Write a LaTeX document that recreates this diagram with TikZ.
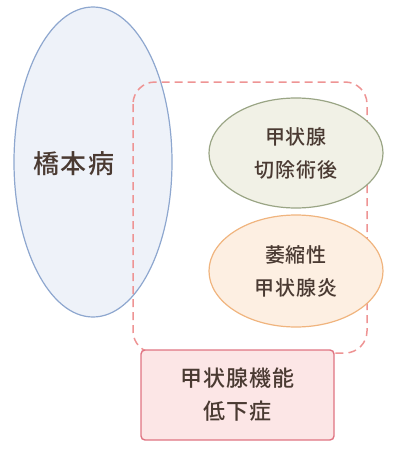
\documentclass[tikz,border=0pt]{standalone}
\usepackage{fontspec}
\setmainfont{Noto Sans CJK JP Medium}[LetterSpace=5]
\usetikzlibrary{shapes.geometric}
\definecolor{txt}{HTML}{4A3A32}
\definecolor{blueF}{HTML}{EEF2F9}
\definecolor{blueD}{HTML}{8EA7CF}
\definecolor{greenF}{HTML}{F1F1E6}
\definecolor{greenD}{HTML}{9AA585}
\definecolor{orF}{HTML}{FDEFE2}
\definecolor{orD}{HTML}{F0B47E}
\definecolor{boxF}{HTML}{FCE6E6}
\definecolor{boxD}{HTML}{E07482}
\definecolor{dashC}{HTML}{EE9494}
\tikzset{
  ell/.style={ellipse, inner sep=0pt, line width=1.2pt, text=txt, align=center,
    font=\fontsize{20}{33}\selectfont},
  lbl/.style={text=txt, inner sep=0pt, align=center},
  dashbox/.style={draw=dashC, line width=1.5pt, dash pattern=on 8pt off 5pt, rounded corners=22pt},
  finalbox/.style={draw=boxD, fill=boxF, line width=1.4pt, rounded corners=4pt, minimum width=193pt,
    minimum height=90pt, text=txt, align=center, font=\fontsize{22}{33}\selectfont, inner sep=0pt}
}
\begin{document}
\begin{tikzpicture}[x=1pt,y=-1pt]
\useasboundingbox (0,0) rectangle (400,450);
\node[ell, draw=blueD, fill=blueF, minimum width=158pt, minimum height=310pt] (hashi) at (93,162) {};
\node[lbl, font=\fontsize{26}{30}\selectfont] (hashiT) at (74,164) {橋本病};
\coordinate (dA) at (133,82);
\coordinate (dB) at (367,353);
\draw[dashbox] (dA) rectangle (dB);
\node[ell, draw=greenD, fill=greenF, minimum width=174pt, minimum height=110pt] (post) at (296,153) {甲状腺\\切除術後};
\node[ell, draw=orD, fill=orF, minimum width=174pt, minimum height=112pt] (atro) at (296,271) {萎縮性\\甲状腺炎};
\node[finalbox] (hypo) at (237.5,395) {甲状腺機能\\低下症};
\end{tikzpicture}
\end{document}
